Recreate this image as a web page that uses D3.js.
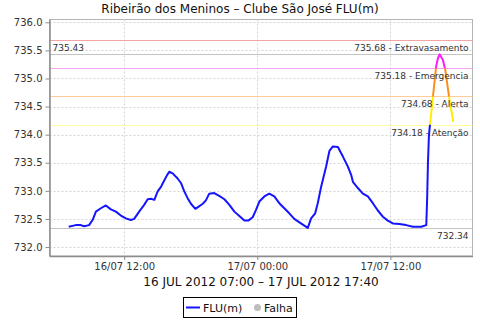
<!DOCTYPE html>
<html>
<head>
<meta charset="utf-8">
<script src="https://cdnjs.cloudflare.com/ajax/libs/d3/7.8.5/d3.min.js"></script>
<style>
    body { margin: 0; background: #fff; }
    svg { display: block; font-family: "DejaVu Sans", sans-serif; }
</style>
</head>
<body>
<svg id="chart" width="480" height="320"></svg>
<script>
// readings of the river level (FLU, metres)
const timeLabels = [
    "16/07/2012 07:00", "16/07/2012 07:38", "16/07/2012 08:05", "16/07/2012 08:23", "16/07/2012 08:50",
    "16/07/2012 09:09", "16/07/2012 09:27", "16/07/2012 09:54", "16/07/2012 10:21", "16/07/2012 10:48",
    "16/07/2012 11:15", "16/07/2012 11:42", "16/07/2012 12:09", "16/07/2012 12:36", "16/07/2012 12:54",
    "16/07/2012 13:21", "16/07/2012 13:48", "16/07/2012 14:07", "16/07/2012 14:25", "16/07/2012 14:43",
    "16/07/2012 15:01", "16/07/2012 15:19", "16/07/2012 15:28", "16/07/2012 15:52", "16/07/2012 16:04",
    "16/07/2012 16:22", "16/07/2012 16:49", "16/07/2012 17:07", "16/07/2012 17:25", "16/07/2012 17:43",
    "16/07/2012 18:01", "16/07/2012 18:25", "16/07/2012 18:43", "16/07/2012 19:05", "16/07/2012 19:22",
    "16/07/2012 19:40", "16/07/2012 20:07", "16/07/2012 20:34", "16/07/2012 21:02", "16/07/2012 21:29",
    "16/07/2012 21:56", "16/07/2012 22:23", "16/07/2012 22:50", "16/07/2012 23:11", "16/07/2012 23:35",
    "16/07/2012 23:53", "17/07/2012 00:11", "17/07/2012 00:38", "17/07/2012 01:05", "17/07/2012 01:32",
    "17/07/2012 01:59", "17/07/2012 02:26", "17/07/2012 02:53", "17/07/2012 03:20", "17/07/2012 03:56",
    "17/07/2012 04:33", "17/07/2012 04:51", "17/07/2012 05:13", "17/07/2012 05:27", "17/07/2012 05:45",
    "17/07/2012 06:12", "17/07/2012 06:30", "17/07/2012 06:49", "17/07/2012 07:16", "17/07/2012 07:43",
    "17/07/2012 08:10", "17/07/2012 08:28", "17/07/2012 08:37", "17/07/2012 09:04", "17/07/2012 09:31",
    "17/07/2012 09:58", "17/07/2012 10:25", "17/07/2012 10:52", "17/07/2012 11:19", "17/07/2012 11:46",
    "17/07/2012 12:13", "17/07/2012 12:49", "17/07/2012 13:25", "17/07/2012 14:02", "17/07/2012 14:47",
    "17/07/2012 15:14", "17/07/2012 15:19", "17/07/2012 15:23", "17/07/2012 15:28", "17/07/2012 15:31",
    "17/07/2012 15:50", "17/07/2012 16:07", "17/07/2012 16:17", "17/07/2012 16:26", "17/07/2012 16:44",
    "17/07/2012 16:57", "17/07/2012 17:11", "17/07/2012 17:20", "17/07/2012 17:40"
];
const levels = [
    732.36, 732.39, 732.39, 732.37, 732.39,
    732.48, 732.63, 732.69, 732.74, 732.67,
    732.63, 732.56, 732.51, 732.48, 732.50,
    732.63, 732.75, 732.85, 732.86, 732.84,
    732.99, 733.07, 733.13, 733.28, 733.34,
    733.31, 733.22, 733.14, 732.99, 732.87,
    732.77, 732.68, 732.72, 732.77, 732.83,
    732.95, 732.96, 732.91, 732.85, 732.75,
    732.63, 732.55, 732.47, 732.47, 732.53,
    732.66, 732.81, 732.90, 732.95, 732.90,
    732.78, 732.69, 732.60, 732.50, 732.42,
    732.34, 732.51, 732.60, 732.78, 733.07,
    733.43, 733.71, 733.79, 733.78, 733.61,
    733.43, 733.28, 733.16, 733.05, 732.95,
    732.90, 732.78, 732.65, 732.54, 732.47,
    732.42, 732.41, 732.39, 732.36, 732.36,
    732.39, 732.90, 733.49, 733.96, 734.08,
    734.67, 735.21, 735.36, 735.43, 735.33,
    735.15, 734.82, 734.61, 734.23
];

// alarm levels of the station
const thresholdLevels = [734.18, 734.68, 735.18, 735.68];
const thresholdNames = ["Atenção", "Alerta", "Emergencia", "Extravasamento"];

// axes
const yDomain = [731.84, 736.05];
const yTickValues = [732.0, 732.5, 733.0, 733.5, 734.0, 734.5, 735.0, 735.5, 736.0];
const xTickLabels = ["16/07/2012 12:00", "17/07/2012 00:00", "17/07/2012 12:00"];

const chartTitle = "Ribeirão dos Meninos – Clube São José FLU(m)";
const periodLabel = "16 JUL 2012 07:00 – 17 JUL 2012 17:40";
const legendNames = ["FLU(m)", "Falha"];

/**
 * Constructor for the river level chart
 * @param svgId selector of the svg element to draw into
 * @constructor
 */
var LevelChart = function(svgId){
    this.svg = d3.select(svgId);
    this.parseTime = d3.timeParse("%d/%m/%Y %H:%M");
    this.data = timeLabels.map((t, i) => ({time: this.parseTime(t), level: levels[i]}));

    this.PLOT = {left: 49.5, right: 472.5, top: 19.5, bottom: 256};
    this.THRESHOLD_COLORS = ["#ffff99", "#ffcc99", "#f2a6f2", "#f4a4a4"];  // lines of the alarm levels
    this.SERIES_COLORS = ["#1414ff", "#ffee00", "#ff8c1a", "#ff1aff"];     // line colour below / between alarm levels
    this.TEXT = "#333";

    /**
     * Builds the time and level scales
     */
    this.createScales = function(){
        let first = this.data[0].time, last = this.data[this.data.length - 1].time;
        let pad = (last - first) * 0.05;     // 5% margin on each side of the period
        this.x = d3.scaleTime()
            .domain([new Date(+first - pad), new Date(+last + pad)])
            .range([this.PLOT.left, this.PLOT.right]);
        this.y = d3.scaleLinear()
            .domain(yDomain)
            .range([this.PLOT.bottom, this.PLOT.top]);
    };

    /**
     * Dashed grid and the plot frame
     */
    this.createGrid = function(){
        let _this = this;
        let P = this.PLOT;

        this.svg.append("rect")
            .attr("x", P.left).attr("y", P.top)
            .attr("width", P.right - P.left).attr("height", P.bottom - P.top)
            .attr("fill", "#fff")
            .attr("stroke", "#b4b4b4");

        this.svg.append("g").selectAll("line")
            .data(yTickValues)
            .enter().append("line")
            .attr("x1", P.left).attr("x2", P.right)
            .attr("y1", d => Math.round(_this.y(d)) + 0.5)
            .attr("y2", d => Math.round(_this.y(d)) + 0.5)
            .style("stroke", "#d4d4d4")
            .style("stroke-dasharray", "2,2");

        this.svg.append("g").selectAll("line")
            .data(xTickLabels.map(t => _this.parseTime(t)))
            .enter().append("line")
            .attr("y1", P.top).attr("y2", P.bottom)
            .attr("x1", d => Math.round(_this.x(d)) + 0.5)
            .attr("x2", d => Math.round(_this.x(d)) + 0.5)
            .style("stroke", "#d4d4d4")
            .style("stroke-dasharray", "2,2");
    };

    /**
     * Horizontal lines for the alarm levels, the maximum and the minimum of the period
     */
    this.createMarkers = function(){
        let _this = this;
        let P = this.PLOT;
        let maxLevel = d3.max(this.data, d => d.level),
            minLevel = d3.min(this.data, d => d.level);

        let markers = this.svg.append("g");

        markers.selectAll("line.threshold")
            .data(thresholdLevels)
            .enter().append("line")
            .attr("class", "threshold")
            .attr("x1", P.left).attr("x2", P.right)
            .attr("y1", d => Math.round(_this.y(d)) + 0.5)
            .attr("y2", d => Math.round(_this.y(d)) + 0.5)
            .style("stroke", (d, i) => _this.THRESHOLD_COLORS[i]);

        markers.selectAll("line.extreme")
            .data([maxLevel, minLevel])
            .enter().append("line")
            .attr("class", "extreme")
            .attr("x1", P.left).attr("x2", P.right)
            .attr("y1", d => Math.round(_this.y(d)) + 0.5)
            .attr("y2", d => Math.round(_this.y(d)) + 0.5)
            .style("stroke", "#c4c4c4");

        this.extremes = {max: maxLevel, min: minLevel};
    };

    /**
     * The level series: one path per band between alarm levels, each clipped to its band
     */
    this.createSeries = function(){
        let _this = this;
        let edges = [yDomain[0]].concat(thresholdLevels.slice(0, 3), [yDomain[1]]);
        let line = d3.line()
            .x(d => _this.x(d.time))
            .y(d => _this.y(d.level));

        let defs = this.svg.append("defs");
        edges.slice(0, -1).forEach(function(lo, i){
            let hi = edges[i + 1];
            defs.append("clipPath")
                .attr("id", "band" + i)
                .append("rect")
                .attr("x", 0).attr("width", 480)
                .attr("y", _this.y(hi))
                .attr("height", _this.y(lo) - _this.y(hi));

            _this.svg.append("path")
                .datum(_this.data)
                .attr("clip-path", `url(#band${i})`)
                .attr("d", line)
                .style("fill", "none")
                .style("stroke", _this.SERIES_COLORS[i])
                .style("stroke-width", 2)
                .style("stroke-linejoin", "round");
        });
    };

    /**
     * Texts next to the horizontal lines
     */
    this.createMarkerLabels = function(){
        let _this = this;
        let P = this.PLOT;
        let fmt = d3.format(".2f");
        let labels = this.svg.append("g")
            .style("font-size", "9px")
            .style("fill", this.TEXT);

        labels.selectAll("text.threshold")
            .data(thresholdLevels)
            .enter().append("text")
            .attr("x", P.right - 4)
            .attr("y", d => _this.y(d) + 11)
            .attr("text-anchor", "end")
            .text((d, i) => `${fmt(d)} - ${thresholdNames[i]}`);

        labels.append("text")
            .attr("x", P.left + 3)
            .attr("y", this.y(this.extremes.max) - 3.5)
            .text(fmt(this.extremes.max));

        labels.append("text")
            .attr("x", P.right - 4)
            .attr("y", this.y(this.extremes.min) + 11.5)
            .attr("text-anchor", "end")
            .text(fmt(this.extremes.min));
    };

    /**
     * Axes, title and legend
     */
    this.createAxes = function(){
        let _this = this;
        let P = this.PLOT;

        let yAxis = this.svg.append("g")
            .attr("transform", `translate(${P.left},0)`)
            .call(d3.axisLeft(this.y).tickValues(yTickValues)
                .tickFormat(d3.format(".1f")).tickSize(4).tickSizeOuter(0).tickPadding(3));

        let xAxis = this.svg.append("g")
            .attr("transform", `translate(0,${P.bottom})`)
            .call(d3.axisBottom(this.x).tickValues(xTickLabels.map(t => _this.parseTime(t)))
                .tickFormat(d3.timeFormat("%d/%m %H:%M")).tickSize(4).tickSizeOuter(0).tickPadding(2.5));

        [yAxis, xAxis].forEach(function(axis){
            axis.select(".domain").style("stroke", "#8c8c8c").style("stroke-width", 1.5);
            axis.selectAll(".tick line").style("stroke", "#8c8c8c");
            axis.selectAll("text")
                .style("font-family", "DejaVu Sans, sans-serif")
                .style("font-size", "10px")
                .style("fill", _this.TEXT);
        });

        this.svg.append("text")
            .attr("x", 240).attr("y", 12.5)
            .attr("text-anchor", "middle")
            .style("font-size", "12px")
            .style("fill", "#111")
            .text(chartTitle);

        this.svg.append("text")
            .attr("x", (P.left + P.right) / 2).attr("y", 285.5)
            .attr("text-anchor", "middle")
            .style("font-size", "12px")
            .style("fill", "#111")
            .text(periodLabel);

        // legend
        let legend = this.svg.append("g");
        legend.append("rect")
            .attr("x", 183.5).attr("y", 297.5)
            .attr("width", 113).attr("height", 20)
            .attr("fill", "#fff")
            .attr("stroke", "#000");
        legend.append("line")
            .attr("x1", 186).attr("x2", 200)
            .attr("y1", 307.5).attr("y2", 307.5)
            .style("stroke", this.SERIES_COLORS[0])
            .style("stroke-width", 2);
        legend.append("text")
            .attr("x", 203).attr("y", 311.5)
            .style("font-size", "11px")
            .style("fill", "#111")
            .text(legendNames[0]);
        legend.append("circle")
            .attr("cx", 257.5).attr("cy", 307.5).attr("r", 3.5)
            .style("fill", "#bdbdbd");
        legend.append("text")
            .attr("x", 264).attr("y", 311.5)
            .style("font-size", "11px")
            .style("fill", "#111")
            .text(legendNames[1]);
    };

    this.draw = function(){
        this.createScales();
        this.createGrid();
        this.createMarkers();
        this.createSeries();
        this.createMarkerLabels();
        this.createAxes();
    };
};

new LevelChart("#chart").draw();
</script>
</body>
</html>
